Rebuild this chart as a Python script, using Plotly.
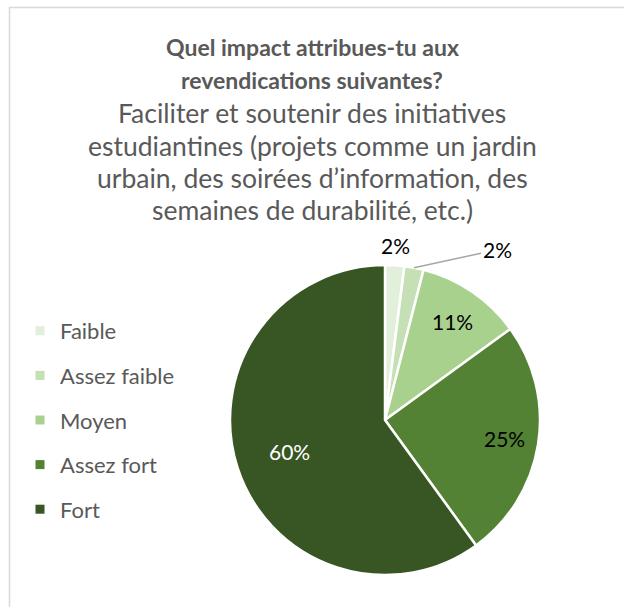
import math
import plotly.graph_objects as go

categories = ["Faible", "Assez faible", "Moyen", "Assez fort", "Fort"]
values = [2, 2, 11, 25, 60]
colors = ["#e2efda", "#c5e0b4", "#a9d18e", "#548235", "#375623"]
label_colors = ["#000000", "#000000", "#000000", "#000000", "#ffffff"]
title_bold = ["Quel impact attribues-tu aux", "revendications suivantes?"]
title_lines = [
    "Faciliter et soutenir des initiatives",
    "estudiantines (projets comme un jardin",
    "urbain, des soirées d’information, des",
    "semaines de durabilité, etc.)",
]

FONT = "Lato"
GREY = "#595959"
W, H = 624, 607

# pie geometry in pixels (domain of the pie)
PX0, PX1, PY0, PY1 = 230, 540, 265, 575
CX, CY, R = (PX0 + PX1) / 2, (PY0 + PY1) / 2, (PX1 - PX0) / 2
# label distance from centre as a share of the radius (None = leader line)
label_radius = [1.13, None, 0.77, 0.78, 0.65]

fig = go.Figure()

fig.add_trace(go.Pie(
    labels=categories,
    values=values,
    sort=False,
    direction="clockwise",
    rotation=0,
    marker=dict(colors=colors, line=dict(color="white", width=2.5)),
    textinfo="none",
    showlegend=False,
    domain=dict(x=[PX0 / W, PX1 / W], y=[1 - PY1 / H, 1 - PY0 / H]),
    hoverinfo="label+percent",
))

# legend built from dummy marker traces so the item spacing can match
for cat, col in zip(categories, colors):
    fig.add_trace(go.Scatter(
        x=[None], y=[None], mode="markers", name=cat, legendgroup=cat,
        marker=dict(symbol="square", size=9, color=col),
    ))

annotations = []
y = 47
for line in title_bold:
    annotations.append(dict(text="<b>" + line + "</b>", x=0.5, y=1 - y / H,
                            xref="paper", yref="paper", showarrow=False,
                            yanchor="middle",
                            font=dict(family=FONT, size=23, color=GREY)))
    y += 33
for line in title_lines:
    annotations.append(dict(text=line, x=0.5, y=1 - y / H,
                            xref="paper", yref="paper", showarrow=False,
                            yanchor="middle",
                            font=dict(family=FONT, size=26.5, color=GREY)))
    y += 32.5

# percentage labels placed on each slice's bisector
total = sum(values)
cum = 0
for v, rf, tc in zip(values, label_radius, label_colors):
    theta = 2 * math.pi * (cum + v / 2) / total
    cum += v
    txt = f"{round(100 * v / total)}%"
    if rf is None:
        ex = CX + R * math.sin(theta)
        ey = CY - R * math.cos(theta)
        annotations.append(dict(
            text=txt, x=ex / W, y=1 - ey / H, xref="paper", yref="paper",
            showarrow=True, arrowhead=0, arrowwidth=1.5, arrowcolor="#a6a6a6",
            ax=83, ay=-18, standoff=0,
            font=dict(family=FONT, size=21, color=tc)))
    else:
        lx = CX + rf * R * math.sin(theta)
        ly = CY - rf * R * math.cos(theta)
        annotations.append(dict(
            text=txt, x=lx / W, y=1 - ly / H, xref="paper", yref="paper",
            showarrow=False, xanchor="center", yanchor="middle",
            font=dict(family=FONT, size=21, color=tc)))

fig.update_layout(
    width=W, height=H,
    margin=dict(l=0, r=0, t=0, b=0),
    paper_bgcolor="white", plot_bgcolor="white",
    xaxis=dict(visible=False), yaxis=dict(visible=False),
    annotations=annotations,
    legend=dict(x=20 / W, y=1 - 310 / H, xanchor="left", yanchor="top",
                bgcolor="rgba(0,0,0,0)",
                font=dict(family=FONT, size=22, color=GREY),
                tracegroupgap=13, itemwidth=30),
    shapes=[dict(type="rect", xref="paper", yref="paper",
                 x0=9.5 / W, x1=1.5, y0=-0.5, y1=1 - 7.5 / H,
                 line=dict(color="#d9d9d9", width=1.5))],
)

fig.write_html("out.html", config={"displayModeBar": False},
               post_script="document.body.style.margin='0px';")
